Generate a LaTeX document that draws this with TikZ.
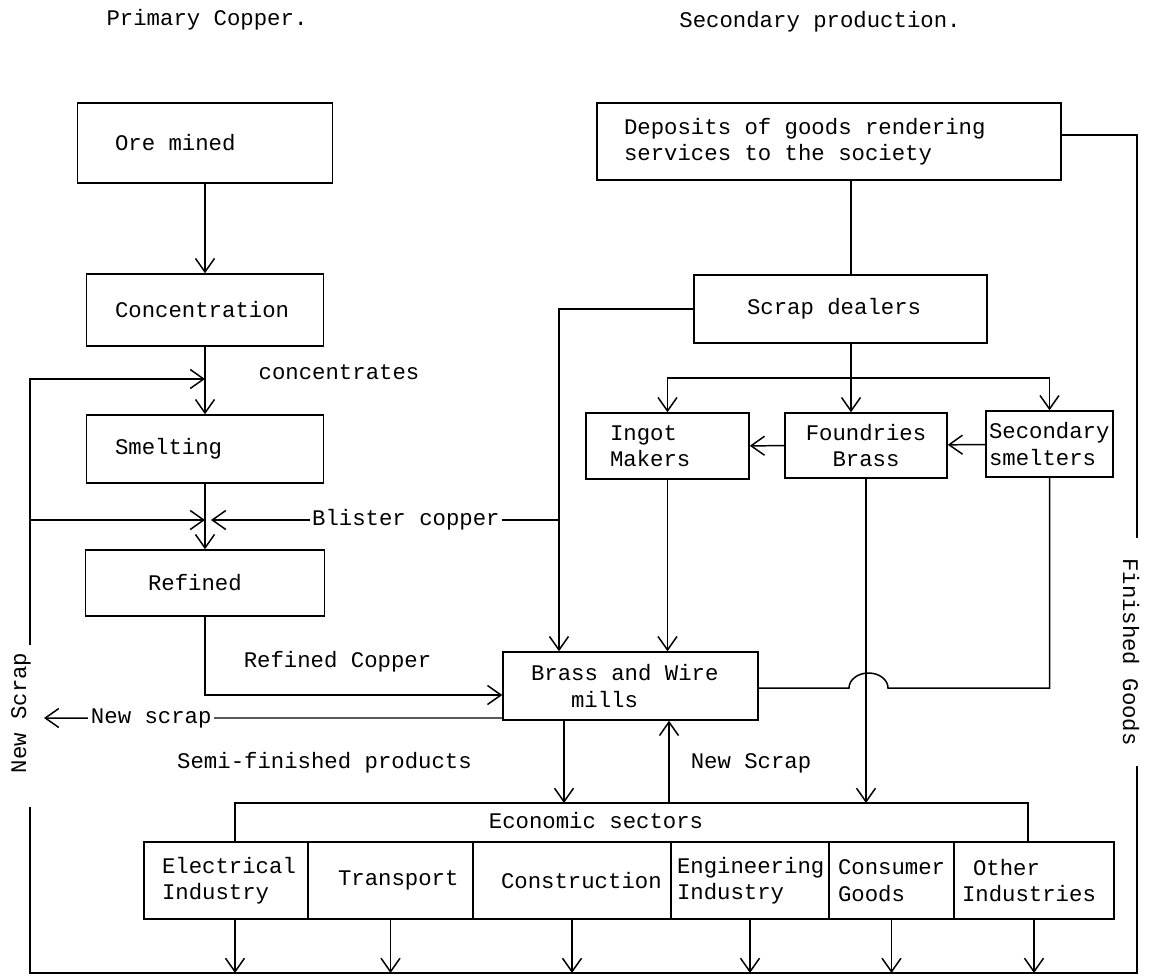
\documentclass[tikz,border=0pt]{standalone}
\usepackage{fontspec}
\newfontfamily\tw{Liberation Mono}
\usetikzlibrary{arrows.meta}
\hyphenpenalty=10000

\begin{document}
\begin{tikzpicture}[
    x=0.02cm, y=-0.02cm,
    >={Straight Barb[length=0.27cm, width=0.38cm]},
    every node/.style={font=\tw\fontsize{12.7}{15}\selectfont},
    box/.style={draw, line width=0.85pt, align=left, inner sep=0pt,
        execute at begin node={\spaceskip=0pt\xspaceskip=0pt}},
    link/.style={line width=0.85pt},
    goods/.style={line width=1.6pt},
    lbl/.style={inner sep=1.5pt},
]
\useasboundingbox (0,0) rectangle (1149,976);

% Titles
\node (tprim) at (207,20) {Primary Copper.};
\node (tsec) at (820,22) {Secondary production.};

% Primary copper boxes
\node[box, minimum width=5.1cm, minimum height=1.6cm, text width=3.6cm] (ore) at (205,143) {Ore mined};
\node[box, minimum width=4.74cm, minimum height=1.44cm, text width=3.6cm] (conc) at (205,310) {Concentration};
\node[box, minimum width=4.74cm, minimum height=1.36cm, text width=3.6cm] (smelt) at (205,449) {Smelting};
\node[box, minimum width=4.78cm, minimum height=1.32cm, text width=2.28cm] (refd) at (205,583) {Refined};

% Secondary production boxes
\node[box, minimum width=9.28cm, minimum height=1.54cm, text width=8.2cm] (depo) at (829,141.5) {Deposits of goods rendering\\services to the society};
\node[box, minimum width=5.86cm, minimum height=1.36cm, text width=3.74cm] (scrap) at (840.5,309) {Scrap dealers};
\node[box, minimum width=3.26cm, minimum height=1.32cm, text width=2.3cm] (ingot) at (667.5,446) {Ingot\\Makers};
\node[box, align=center, minimum width=3.24cm, minimum height=1.3cm] (found) at (866,445.5) {Foundries\\Brass};
\node[box, minimum width=2.54cm, minimum height=1.32cm, text width=2.42cm] (secs) at (1049.5,444) {Secondary\\smelters};
\node[box, minimum width=5.1cm, minimum height=1.36cm, text width=3.98cm] (brass) at (630.5,686) {Brass and Wire\\\hspace*{0.8cm}mills};

% Economic sectors
\node[box, minimum width=3.28cm, minimum height=1.54cm, text width=2.56cm] (elec) at (226,880.5) {Electrical\\Industry};
\node[box, minimum width=3.3cm, minimum height=1.54cm, text width=2.1cm] (trans) at (390.5,880.5) {Transport};
\node[box, minimum width=3.96cm, minimum height=1.54cm, text width=2.84cm] (constr) at (572,880.5) {Construction};
\node[box, minimum width=3.16cm, minimum height=1.54cm, text width=2.92cm] (engin) at (750,880.5) {Engineering\\Industry};
\node[box, minimum width=2.5cm, minimum height=1.54cm, text width=2.14cm] (consum) at (891.5,880.5) {Consumer\\Goods};
\node[box, minimum width=3.2cm, minimum height=1.54cm, text width=2.88cm] (other) at (1034,880.5) {\hspace*{0.22cm}Other\\Industries};

% Labels
\node (conclbl) at (339,372) {concentrates};
\node (rclbl) at (337.5,662) {Refined Copper};
\node (semilbl) at (324.5,763) {Semi-finished products};
\node (nslbl) at (751,763) {New Scrap};
\node (eslbl) at (596,821) {Economic sectors};
\node[rotate=90] (nstext) at (21,713) {New Scrap};
\node[rotate=-90] (fgtext) at (1131,652) {Finished Goods};

% Junctions
\coordinate (cjoin) at (205,379);
\coordinate (bjoin) at (205,520);
\coordinate (blis) at (559,520);
\coordinate (split) at (851,378);
\coordinate (hop) at (888,688);
\coordinate (nsend) at (44,718);
\coordinate (nshigh) at (30,645);
\coordinate (nslow) at (30,807);
\coordinate (botl) at (30,973);
\coordinate (fgtop) at (1137,538);
\coordinate (fgbot) at (1137,766);
\coordinate (bl) at (235,803);
\coordinate (br) at (1028,803);
\coordinate (semi) at (564,803);
\coordinate (nsup) at (669,803);

% Primary chain
\draw[link, ->] (ore) -- (conc);
\draw[link, ->] (conc) -- (smelt);
\draw[link, ->] (smelt) -- (refd);
\draw[link, ->] (refd.south) |- ([yshift=-0.18cm]brass.west);

% New scrap return (left)
\draw[link, ->] (nshigh) |- (cjoin);
\draw[link, ->] (nshigh |- bjoin) -- (bjoin);
\draw[link, ->] ([yshift=-0.64cm]brass.west) -- (nsend)
    node[lbl, pos=0.766, fill=white] (nstxt) {New scrap};

% Blister copper
\draw[link, ->] (blis) -- ([xshift=0.12cm]bjoin)
    node[lbl, pos=0.44, fill=white] (blistxt) {Blister copper};

% Secondary flows
\draw[link] (depo.south -| split) -- (scrap.north -| split);
\draw[link] (scrap.south -| split) -- (split);
\draw[link, ->] (split) -- (found.north -| split);
\draw[link, ->] (split) -| (ingot.north);
\draw[link, ->] (split) -| (secs.north);
\draw[link, ->] (scrap.west) -| (brass.north -| blis);
\draw[link, ->] (found) -- (ingot);
\draw[link, ->] (secs) -- (found);
\draw[link, ->] (ingot.south) -- (ingot.south |- brass.north);
\draw[link, ->] (found.south) -- (found.south |- bl);
\draw[link] (secs.south) |- (hop) arc[start angle=0, end angle=180, x radius=0.39cm, y radius=0.3cm] -- (brass.east |- hop);

% Mills to sectors
\draw[link] (elec.north -| bl) -- (bl) -- (br) -- (other.north -| br);
\draw[link, ->] (brass.south -| semi) -- (semi);
\draw[link, ->] (nsup) -- (brass.south -| nsup);

% Sectors to finished goods
\draw[link, ->] (elec.south -| bl) -- (bl |- botl);
\draw[link, ->] (trans.south) -- (trans.south |- botl);
\draw[link, ->] (constr.south) -- (constr.south |- botl);
\draw[link, ->] (engin.south) -- (engin.south |- botl);
\draw[link, ->] (consum.south) -- (consum.south |- botl);
\draw[link, ->] (other.south) -- (other.south |- botl);

% Finished goods loop
\draw[goods] ([yshift=0.13cm]depo.east) -| (fgtop);
\draw[goods] (fgbot) |- (botl) -- (nslow);

\end{tikzpicture}
\end{document}
